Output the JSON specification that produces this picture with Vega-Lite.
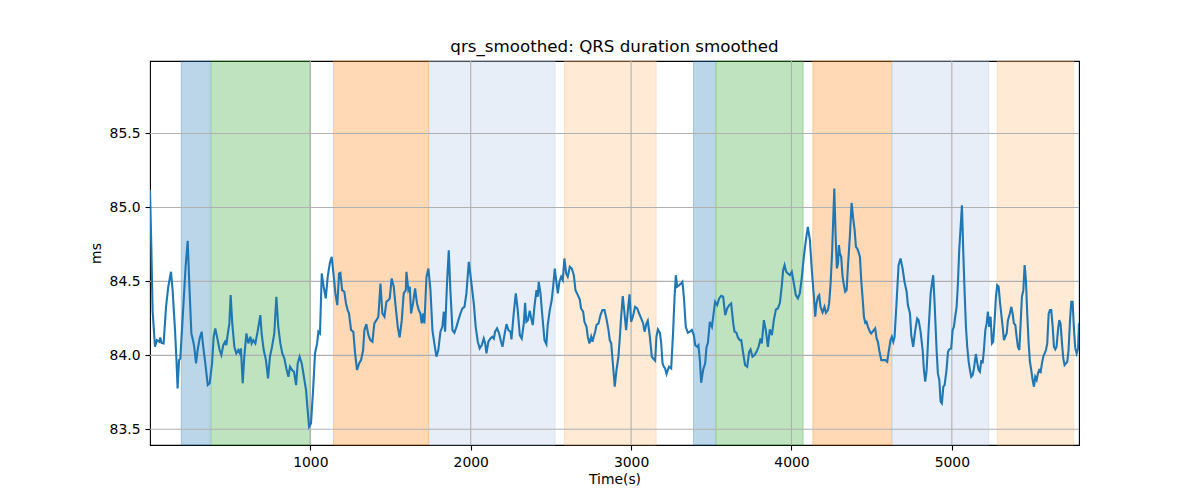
{
"$schema": "https://vega.github.io/schema/vega-lite/v6.json",
"autosize": {"type": "none"},
"width": 929,
"height": 384,
"padding": {"left": 150, "top": 61, "right": 121, "bottom": 55},
"config": {
  "font": "DejaVu Sans",
  "view": {"stroke": "#000000", "strokeWidth": 1.1},
  "axis": {"labelFont": "DejaVu Sans", "titleFont": "DejaVu Sans", "labelFontSize": 13.9, "titleFontSize": 13.9, "labelColor": "#000000", "titleColor": "#000000", "titleFontWeight": "normal", "tickColor": "#000000", "domainColor": "#000000", "tickSize": 5, "labelPadding": 5, "grid": false, "domain": false, "tickWidth": 1.1}
},
"title": {"text": "qrs_smoothed: QRS duration smoothed", "fontSize": 16.7, "fontWeight": "normal", "font": "DejaVu Sans", "color": "#000000", "anchor": "middle", "offset": 8, "baseline": "alphabetic", "dy": 16},
"datasets": {
  "bands": [
    {"start": 195, "end": 376, "kind": "blue"},
    {"start": 382, "end": 997, "kind": "green"},
    {"start": 1144, "end": 1738, "kind": "orange"},
    {"start": 1741, "end": 2526, "kind": "lightblue"},
    {"start": 2584, "end": 3156, "kind": "lightorange"},
    {"start": 3389, "end": 3526, "kind": "blue"},
    {"start": 3532, "end": 4073, "kind": "green"},
    {"start": 4133, "end": 4626, "kind": "orange"},
    {"start": 4630, "end": 5231, "kind": "lightblue"},
    {"start": 5283, "end": 5760, "kind": "lightorange"}
  ],
  "xgrid": [{"g": 1000}, {"g": 2000}, {"g": 3000}, {"g": 4000}, {"g": 5000}],
  "ygrid": [{"g": 83.5}, {"g": 84.0}, {"g": 84.5}, {"g": 85.0}, {"g": 85.5}],
  "series": [
    {"t":0,"v":85.12},{"t":8,"v":84.75},{"t":16,"v":84.306},{"t":31,"v":84.058},{"t":43,"v":84.103},{"t":58,"v":84.092},{"t":64,"v":84.121},{"t":72,"v":84.085},{"t":85,"v":84.081},{"t":100,"v":84.328},{"t":114,"v":84.464},{"t":131,"v":84.565},{"t":141,"v":84.441},{"t":156,"v":84.171},{"t":166,"v":83.946},{"t":172,"v":83.777},{"t":181,"v":83.968},{"t":189,"v":83.979},{"t":210,"v":84.373},{"t":222,"v":84.599},{"t":235,"v":84.774},{"t":245,"v":84.486},{"t":258,"v":84.148},{"t":270,"v":84.092},{"t":276,"v":84.058},{"t":287,"v":83.946},{"t":297,"v":84.036},{"t":310,"v":84.115},{"t":322,"v":84.16},{"t":332,"v":84.058},{"t":345,"v":83.946},{"t":360,"v":83.799},{"t":372,"v":83.811},{"t":387,"v":83.946},{"t":397,"v":84.126},{"t":407,"v":84.182},{"t":418,"v":84.126},{"t":434,"v":84.036},{"t":445,"v":84.002},{"t":457,"v":84.069},{"t":468,"v":84.092},{"t":476,"v":84.069},{"t":484,"v":84.137},{"t":495,"v":84.216},{"t":503,"v":84.407},{"t":513,"v":84.216},{"t":526,"v":84.058},{"t":538,"v":84.013},{"t":551,"v":84.036},{"t":561,"v":84.013},{"t":567,"v":84.047},{"t":578,"v":83.811},{"t":588,"v":83.991},{"t":601,"v":84.148},{"t":613,"v":84.081},{"t":626,"v":84.126},{"t":634,"v":84.081},{"t":644,"v":84.103},{"t":657,"v":84.081},{"t":671,"v":84.16},{"t":688,"v":84.272},{"t":696,"v":84.148},{"t":709,"v":84.036},{"t":723,"v":83.968},{"t":736,"v":83.844},{"t":748,"v":83.991},{"t":761,"v":84.058},{"t":775,"v":84.148},{"t":788,"v":84.396},{"t":800,"v":84.193},{"t":813,"v":84.081},{"t":825,"v":84.013},{"t":838,"v":83.979},{"t":850,"v":83.912},{"t":863,"v":83.855},{"t":873,"v":83.923},{"t":886,"v":83.901},{"t":898,"v":83.889},{"t":911,"v":83.799},{"t":921,"v":83.946},{"t":933,"v":83.991},{"t":946,"v":83.946},{"t":958,"v":83.867},{"t":973,"v":83.765},{"t":983,"v":83.63},{"t":992,"v":83.518},{"t":1004,"v":83.54},{"t":1017,"v":83.765},{"t":1029,"v":84.013},{"t":1042,"v":84.081},{"t":1050,"v":84.16},{"t":1060,"v":84.148},{"t":1071,"v":84.554},{"t":1083,"v":84.464},{"t":1096,"v":84.385},{"t":1108,"v":84.531},{"t":1121,"v":84.621},{"t":1133,"v":84.666},{"t":1146,"v":84.531},{"t":1156,"v":84.419},{"t":1168,"v":84.34},{"t":1179,"v":84.554},{"t":1187,"v":84.558},{"t":1198,"v":84.441},{"t":1212,"v":84.43},{"t":1222,"v":84.351},{"t":1233,"v":84.306},{"t":1241,"v":84.283},{"t":1254,"v":84.171},{"t":1268,"v":84.16},{"t":1279,"v":84.013},{"t":1291,"v":83.901},{"t":1304,"v":83.946},{"t":1316,"v":83.968},{"t":1329,"v":84.036},{"t":1337,"v":84.171},{"t":1349,"v":84.211},{"t":1362,"v":84.137},{"t":1374,"v":84.103},{"t":1387,"v":84.092},{"t":1399,"v":84.216},{"t":1412,"v":84.238},{"t":1424,"v":84.261},{"t":1437,"v":84.486},{"t":1449,"v":84.283},{"t":1462,"v":84.261},{"t":1474,"v":84.362},{"t":1487,"v":84.374},{"t":1495,"v":84.385},{"t":1507,"v":84.52},{"t":1520,"v":84.464},{"t":1532,"v":84.328},{"t":1545,"v":84.193},{"t":1557,"v":84.121},{"t":1570,"v":84.238},{"t":1582,"v":84.419},{"t":1595,"v":84.441},{"t":1599,"v":84.565},{"t":1611,"v":84.441},{"t":1620,"v":84.464},{"t":1628,"v":84.283},{"t":1640,"v":84.351},{"t":1653,"v":84.452},{"t":1665,"v":84.351},{"t":1676,"v":84.306},{"t":1686,"v":84.283},{"t":1694,"v":84.216},{"t":1703,"v":84.283},{"t":1711,"v":84.216},{"t":1724,"v":84.531},{"t":1736,"v":84.587},{"t":1749,"v":84.441},{"t":1761,"v":84.171},{"t":1773,"v":84.081},{"t":1786,"v":83.991},{"t":1798,"v":84.036},{"t":1811,"v":84.16},{"t":1823,"v":84.193},{"t":1832,"v":84.295},{"t":1840,"v":84.16},{"t":1852,"v":84.486},{"t":1863,"v":84.711},{"t":1873,"v":84.441},{"t":1886,"v":84.171},{"t":1898,"v":84.153},{"t":1911,"v":84.193},{"t":1923,"v":84.238},{"t":1936,"v":84.283},{"t":1948,"v":84.317},{"t":1961,"v":84.328},{"t":1973,"v":84.419},{"t":1988,"v":84.632},{"t":2002,"v":84.509},{"t":2019,"v":84.351},{"t":2031,"v":84.193},{"t":2044,"v":84.092},{"t":2056,"v":84.047},{"t":2069,"v":84.069},{"t":2081,"v":84.114},{"t":2090,"v":84.081},{"t":2098,"v":84.013},{"t":2110,"v":84.092},{"t":2123,"v":84.114},{"t":2135,"v":84.126},{"t":2144,"v":84.114},{"t":2152,"v":84.16},{"t":2164,"v":84.182},{"t":2177,"v":84.148},{"t":2189,"v":84.092},{"t":2198,"v":84.058},{"t":2210,"v":84.137},{"t":2223,"v":84.211},{"t":2235,"v":84.171},{"t":2248,"v":84.16},{"t":2254,"v":84.108},{"t":2268,"v":84.283},{"t":2281,"v":84.419},{"t":2293,"v":84.306},{"t":2306,"v":84.137},{"t":2318,"v":84.114},{"t":2331,"v":84.216},{"t":2339,"v":84.355},{"t":2347,"v":84.227},{"t":2356,"v":84.238},{"t":2368,"v":84.301},{"t":2377,"v":84.25},{"t":2387,"v":84.205},{"t":2397,"v":84.328},{"t":2410,"v":84.441},{"t":2418,"v":84.396},{"t":2424,"v":84.497},{"t":2435,"v":84.419},{"t":2447,"v":84.261},{"t":2460,"v":84.103},{"t":2472,"v":84.076},{"t":2480,"v":84.205},{"t":2493,"v":84.306},{"t":2505,"v":84.374},{"t":2514,"v":84.464},{"t":2524,"v":84.587},{"t":2535,"v":84.486},{"t":2543,"v":84.419},{"t":2553,"v":84.497},{"t":2564,"v":84.531},{"t":2574,"v":84.509},{"t":2584,"v":84.655},{"t":2595,"v":84.554},{"t":2605,"v":84.531},{"t":2618,"v":84.599},{"t":2630,"v":84.587},{"t":2643,"v":84.542},{"t":2653,"v":84.441},{"t":2668,"v":84.407},{"t":2680,"v":84.378},{"t":2688,"v":84.317},{"t":2701,"v":84.295},{"t":2709,"v":84.227},{"t":2722,"v":84.193},{"t":2730,"v":84.126},{"t":2740,"v":84.081},{"t":2751,"v":84.126},{"t":2759,"v":84.092},{"t":2767,"v":84.126},{"t":2776,"v":84.16},{"t":2784,"v":84.205},{"t":2797,"v":84.216},{"t":2809,"v":84.272},{"t":2821,"v":84.306},{"t":2834,"v":84.306},{"t":2846,"v":84.25},{"t":2859,"v":84.171},{"t":2867,"v":84.103},{"t":2876,"v":84.081},{"t":2888,"v":83.923},{"t":2898,"v":83.788},{"t":2909,"v":83.901},{"t":2921,"v":83.991},{"t":2930,"v":84.126},{"t":2938,"v":84.261},{"t":2948,"v":84.401},{"t":2959,"v":84.283},{"t":2969,"v":84.171},{"t":2980,"v":84.306},{"t":2990,"v":84.412},{"t":3000,"v":84.227},{"t":3011,"v":84.261},{"t":3025,"v":84.328},{"t":3038,"v":84.317},{"t":3050,"v":84.283},{"t":3063,"v":84.25},{"t":3075,"v":84.216},{"t":3084,"v":84.16},{"t":3096,"v":84.216},{"t":3104,"v":84.234},{"t":3117,"v":84.126},{"t":3129,"v":83.991},{"t":3138,"v":83.979},{"t":3150,"v":83.964},{"t":3158,"v":84.126},{"t":3167,"v":84.175},{"t":3179,"v":84.153},{"t":3187,"v":84.092},{"t":3196,"v":83.946},{"t":3204,"v":83.923},{"t":3212,"v":83.912},{"t":3221,"v":83.874},{"t":3229,"v":83.901},{"t":3237,"v":83.923},{"t":3250,"v":83.912},{"t":3262,"v":84.16},{"t":3271,"v":84.396},{"t":3279,"v":84.542},{"t":3287,"v":84.464},{"t":3300,"v":84.475},{"t":3312,"v":84.486},{"t":3320,"v":84.497},{"t":3329,"v":84.396},{"t":3341,"v":84.193},{"t":3354,"v":84.153},{"t":3366,"v":84.16},{"t":3379,"v":84.171},{"t":3391,"v":84.137},{"t":3400,"v":84.069},{"t":3412,"v":84.058},{"t":3420,"v":84.069},{"t":3429,"v":83.968},{"t":3437,"v":83.815},{"t":3449,"v":83.901},{"t":3462,"v":83.946},{"t":3470,"v":84.054},{"t":3479,"v":84.085},{"t":3491,"v":84.227},{"t":3504,"v":84.193},{"t":3516,"v":84.295},{"t":3524,"v":84.362},{"t":3537,"v":84.34},{"t":3549,"v":84.385},{"t":3562,"v":84.403},{"t":3574,"v":84.396},{"t":3587,"v":84.272},{"t":3599,"v":84.317},{"t":3612,"v":84.34},{"t":3624,"v":84.351},{"t":3637,"v":84.216},{"t":3645,"v":84.16},{"t":3657,"v":84.153},{"t":3666,"v":84.121},{"t":3678,"v":84.103},{"t":3687,"v":84.103},{"t":3699,"v":84.013},{"t":3711,"v":83.934},{"t":3724,"v":83.923},{"t":3736,"v":84.024},{"t":3745,"v":84.04},{"t":3757,"v":83.991},{"t":3770,"v":84.002},{"t":3782,"v":84.024},{"t":3795,"v":84.058},{"t":3807,"v":84.114},{"t":3815,"v":84.081},{"t":3828,"v":84.238},{"t":3840,"v":84.171},{"t":3853,"v":84.058},{"t":3865,"v":84.175},{"t":3878,"v":84.137},{"t":3890,"v":84.238},{"t":3903,"v":84.31},{"t":3915,"v":84.317},{"t":3928,"v":84.355},{"t":3940,"v":84.475},{"t":3948,"v":84.576},{"t":3957,"v":84.61},{"t":3967,"v":84.565},{"t":3978,"v":84.554},{"t":3990,"v":84.542},{"t":4002,"v":84.565},{"t":4015,"v":84.486},{"t":4027,"v":84.407},{"t":4040,"v":84.385},{"t":4052,"v":84.419},{"t":4065,"v":84.531},{"t":4077,"v":84.666},{"t":4090,"v":84.779},{"t":4102,"v":84.869},{"t":4115,"v":84.779},{"t":4127,"v":84.576},{"t":4140,"v":84.396},{"t":4148,"v":84.261},{"t":4156,"v":84.351},{"t":4165,"v":84.396},{"t":4173,"v":84.407},{"t":4181,"v":84.328},{"t":4194,"v":84.29},{"t":4206,"v":84.328},{"t":4215,"v":84.288},{"t":4227,"v":84.306},{"t":4235,"v":84.351},{"t":4244,"v":84.486},{"t":4254,"v":84.711},{"t":4267,"v":85.128},{"t":4275,"v":84.824},{"t":4283,"v":84.587},{"t":4290,"v":84.621},{"t":4296,"v":84.745},{"t":4302,"v":84.689},{"t":4310,"v":84.666},{"t":4319,"v":84.531},{"t":4327,"v":84.475},{"t":4335,"v":84.43},{"t":4344,"v":84.441},{"t":4352,"v":84.599},{"t":4364,"v":84.801},{"t":4375,"v":85.031},{"t":4385,"v":84.925},{"t":4394,"v":84.846},{"t":4402,"v":84.734},{"t":4410,"v":84.723},{"t":4418,"v":84.7},{"t":4427,"v":84.666},{"t":4435,"v":84.509},{"t":4443,"v":84.396},{"t":4452,"v":84.261},{"t":4460,"v":84.22},{"t":4468,"v":84.227},{"t":4477,"v":84.193},{"t":4489,"v":84.16},{"t":4497,"v":84.148},{"t":4506,"v":84.16},{"t":4514,"v":84.171},{"t":4522,"v":84.182},{"t":4531,"v":84.114},{"t":4539,"v":84.092},{"t":4547,"v":84.036},{"t":4560,"v":83.968},{"t":4572,"v":83.968},{"t":4585,"v":83.968},{"t":4597,"v":83.957},{"t":4606,"v":84.024},{"t":4618,"v":84.103},{"t":4626,"v":84.126},{"t":4635,"v":84.092},{"t":4643,"v":84.126},{"t":4655,"v":84.351},{"t":4668,"v":84.61},{"t":4680,"v":84.655},{"t":4693,"v":84.587},{"t":4705,"v":84.497},{"t":4718,"v":84.43},{"t":4726,"v":84.34},{"t":4739,"v":84.283},{"t":4747,"v":84.137},{"t":4759,"v":84.058},{"t":4772,"v":84.171},{"t":4784,"v":84.25},{"t":4793,"v":84.238},{"t":4805,"v":84.16},{"t":4818,"v":84.036},{"t":4826,"v":83.901},{"t":4834,"v":83.822},{"t":4843,"v":83.901},{"t":4855,"v":84.171},{"t":4868,"v":84.419},{"t":4876,"v":84.486},{"t":4884,"v":84.542},{"t":4893,"v":84.34},{"t":4905,"v":84.036},{"t":4913,"v":83.878},{"t":4922,"v":83.833},{"t":4930,"v":83.687},{"t":4938,"v":83.675},{"t":4947,"v":83.788},{"t":4955,"v":83.799},{"t":4967,"v":83.901},{"t":4976,"v":84.024},{"t":4984,"v":84.04},{"t":4996,"v":84.047},{"t":5005,"v":84.171},{"t":5013,"v":84.193},{"t":5021,"v":84.261},{"t":5030,"v":84.328},{"t":5038,"v":84.486},{"t":5046,"v":84.711},{"t":5055,"v":84.869},{"t":5063,"v":85.015},{"t":5071,"v":84.711},{"t":5080,"v":84.419},{"t":5088,"v":84.193},{"t":5096,"v":84.058},{"t":5105,"v":83.957},{"t":5113,"v":83.901},{"t":5121,"v":83.855},{"t":5130,"v":83.867},{"t":5138,"v":83.912},{"t":5150,"v":84.009},{"t":5159,"v":83.946},{"t":5167,"v":83.901},{"t":5175,"v":83.889},{"t":5184,"v":83.968},{"t":5192,"v":83.946},{"t":5200,"v":84.036},{"t":5209,"v":84.171},{"t":5217,"v":84.216},{"t":5225,"v":84.295},{"t":5233,"v":84.193},{"t":5242,"v":84.261},{"t":5250,"v":84.081},{"t":5258,"v":84.092},{"t":5267,"v":84.238},{"t":5275,"v":84.396},{"t":5283,"v":84.475},{"t":5292,"v":84.464},{"t":5300,"v":84.362},{"t":5308,"v":84.283},{"t":5317,"v":84.193},{"t":5325,"v":84.103},{"t":5333,"v":84.126},{"t":5342,"v":84.148},{"t":5350,"v":84.238},{"t":5362,"v":84.283},{"t":5371,"v":84.328},{"t":5379,"v":84.283},{"t":5387,"v":84.216},{"t":5396,"v":84.205},{"t":5404,"v":84.126},{"t":5412,"v":84.058},{"t":5421,"v":84.036},{"t":5429,"v":84.216},{"t":5437,"v":84.396},{"t":5446,"v":84.441},{"t":5454,"v":84.61},{"t":5462,"v":84.509},{"t":5471,"v":84.261},{"t":5479,"v":84.081},{"t":5487,"v":83.957},{"t":5495,"v":83.901},{"t":5504,"v":83.833},{"t":5512,"v":83.788},{"t":5520,"v":83.855},{"t":5529,"v":83.833},{"t":5537,"v":83.878},{"t":5545,"v":83.901},{"t":5554,"v":83.889},{"t":5562,"v":83.946},{"t":5570,"v":83.991},{"t":5579,"v":84.013},{"t":5587,"v":84.036},{"t":5595,"v":84.081},{"t":5604,"v":84.283},{"t":5612,"v":84.306},{"t":5620,"v":84.306},{"t":5629,"v":84.193},{"t":5637,"v":84.058},{"t":5645,"v":84.04},{"t":5653,"v":84.058},{"t":5662,"v":84.171},{"t":5670,"v":84.238},{"t":5678,"v":84.216},{"t":5687,"v":84.081},{"t":5695,"v":83.979},{"t":5703,"v":83.934},{"t":5712,"v":83.946},{"t":5720,"v":83.957},{"t":5728,"v":84.036},{"t":5737,"v":84.238},{"t":5745,"v":84.362},{"t":5753,"v":84.362},{"t":5762,"v":84.171},{"t":5770,"v":84.047},{"t":5778,"v":84.013},{"t":5787,"v":84.047},{"t":5793,"v":84.216}
  ]
},
"layer": [
  {
    "data": {"name": "bands"},
    "mark": {"type": "rect", "fillOpacity": 0.3, "strokeOpacity": 0.3, "strokeWidth": 1},
    "encoding": {
      "x": {"field": "start", "type": "quantitative", "scale": {"domain": [0, 5793], "zero": false, "nice": false}, "axis": {"title": "Time(s)", "values": [1000, 2000, 3000, 4000, 5000], "format": "d", "titlePadding": 4}},
      "x2": {"field": "end"},
      "color": {"field": "kind", "type": "nominal", "legend": null, "scale": {"domain": ["blue", "green", "orange", "lightblue", "lightorange"], "range": ["#1f77b4", "#2ca02c", "#ff7f0e", "#aec7e8", "#ffbb78"]}},
      "stroke": {"field": "kind", "type": "nominal", "legend": null, "scale": {"domain": ["blue", "green", "orange", "lightblue", "lightorange"], "range": ["#1f77b4", "#2ca02c", "#ff7f0e", "#aec7e8", "#ffbb78"]}}
    }
  },
  {
    "data": {"name": "xgrid"},
    "mark": {"type": "rule", "color": "#b0b0b0", "strokeWidth": 1.1},
    "encoding": {"x": {"field": "g", "type": "quantitative"}}
  },
  {
    "data": {"name": "ygrid"},
    "mark": {"type": "rule", "color": "#b0b0b0", "strokeWidth": 1.1},
    "encoding": {"y": {"field": "g", "type": "quantitative"}}
  },
  {
    "data": {"name": "series"},
    "mark": {"type": "line", "color": "#1f77b4", "strokeWidth": 2.1, "clip": true},
    "encoding": {
      "x": {"field": "t", "type": "quantitative"},
      "y": {"field": "v", "type": "quantitative", "scale": {"domain": [83.394, 85.99], "zero": false, "nice": false}, "axis": {"title": "ms", "values": [83.5, 84.0, 84.5, 85.0, 85.5], "format": ".1f", "titlePadding": 6}}
    }
  }
]
}
